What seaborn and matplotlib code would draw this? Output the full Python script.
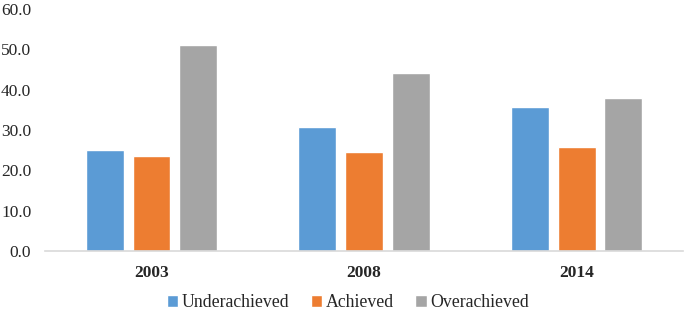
import pandas as pd
import matplotlib
matplotlib.use("Agg")
import matplotlib.pyplot as plt
from matplotlib.ticker import FormatStrFormatter
import seaborn as sns

years = ["2003", "2008", "2014"]
groups = ["Underachieved", "Achieved", "Overachieved"]
underachieved = [25.0, 30.8, 35.7]
achieved = [23.6, 24.6, 25.9]
overachieved = [51.1, 44.1, 38.0]

df = pd.DataFrame({
    "year": years * 3,
    "group": [g for g in groups for _ in years],
    "value": underachieved + achieved + overachieved,
})

palette = {"Underachieved": "#5B9BD5", "Achieved": "#ED7D31", "Overachieved": "#A5A5A5"}

sns.set_theme(style="white")
plt.rcParams["font.family"] = ["Liberation Serif", "DejaVu Serif"]

fig = plt.figure(figsize=(6.85, 3.15), dpi=100)
ax = fig.add_axes([0.066, 0.203, 0.931, 0.768])

sns.barplot(data=df, x="year", y="value", hue="group", hue_order=groups,
            order=years, palette=palette, width=0.66, gap=0.19,
            saturation=1, ax=ax)

ax.set_ylim(0, 60)
ax.set_xlim(-0.5, 2.5)
ax.set_yticks(range(0, 61, 10))
ax.yaxis.set_major_formatter(FormatStrFormatter("%.1f"))
ax.set_xlabel("")
ax.set_ylabel("")
for s in ["top", "right", "left"]:
    ax.spines[s].set_visible(False)
ax.spines["bottom"].set_color("#D9D9D9")
ax.spines["bottom"].set_linewidth(1.2)
ax.tick_params(axis="y", length=0, labelsize=12.5, pad=10)
ax.tick_params(axis="x", length=0, labelsize=12.5, pad=10)
for lbl in ax.get_xticklabels():
    lbl.set_fontweight("bold")

handles, labels = ax.get_legend_handles_labels()
ax.get_legend().remove()
fig.legend(handles, labels, loc="center", bbox_to_anchor=(0.508, 0.04),
           ncol=3, frameon=False, fontsize=12.8, handlelength=0.65,
           handleheight=0.65, handletextpad=0.2, columnspacing=1.2)

fig.savefig("out.png", dpi=100, facecolor="white")
